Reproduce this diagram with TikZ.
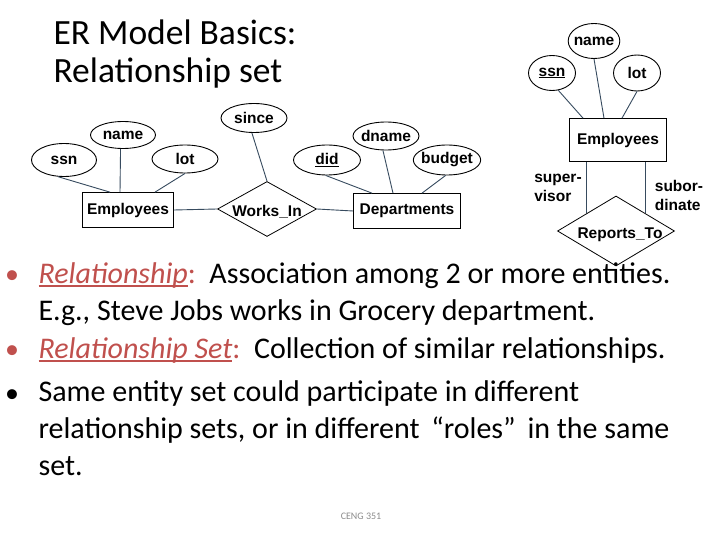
\documentclass[tikz,border=0pt]{standalone}
\usepackage{fontspec}
\setmainfont{Carlito}
\newfontfamily\erfont{Liberation Sans}
\usetikzlibrary{shapes.geometric, positioning}
\definecolor{keyred}{RGB}{192,80,77}
\definecolor{linkgray}{RGB}{55,75,95}
\definecolor{footgray}{RGB}{140,140,140}
\newcommand\erfnt{\erfont\bfseries\fontsize{15.5}{19}\selectfont}
\newcommand\keyterm[1]{\textcolor{keyred}{\setbox0\hbox{\itshape #1}\rlap{\rule[-4pt]{\wd0}{1.6pt}}\box0:}}

\begin{document}
\begin{tikzpicture}[x=1pt, y=-1pt,
    attr/.style={ellipse, draw, line width=0.9pt, inner sep=-2pt, font=\erfnt},
    ent/.style={rectangle, draw, line width=0.7pt, inner sep=0pt, minimum height=35pt, font=\erfnt},
    rel/.style={diamond, draw, line width=0.8pt, inner sep=0pt},
    every label/.style={font=\erfnt},
    link/.style={linkgray, line width=0.9pt},
    role/.style={align=left, font=\erfnt},
    bul/.style={anchor=base west, align=left, font=\fontsize{30}{37}\selectfont},
    dot/.style={anchor=base, font=\fontsize{28}{37}\selectfont}
  ]
  \fill[white] (0,0) rectangle (720,540);
  \useasboundingbox (0,0) rectangle (720,540);

  % title (base = last line)
  \node[anchor=base west, align=left, font=\fontsize{35.5}{38}\selectfont] (title) at (50,83) {ER Model Basics:\\Relationship set};

  % Works_In diagram
  \node[attr, minimum width=65pt, minimum height=33pt] (ssn) at (64,160) {ssn};
  \node[attr, minimum width=65pt, minimum height=27pt] (name) at (123,135) {name};
  \node[attr, minimum width=66pt, minimum height=28pt] (lot) at (185,159) {lot};
  \node[ent, minimum width=91pt] (emp) at (128,210) {Employees};
  \node[attr, minimum width=66pt, minimum height=29pt] (since) at (254,118) {since};
  \node[rel, minimum width=99pt, minimum height=55pt, label={[yshift=-3pt]center:Works\_In}] (works) at (267,209) {};
  \node[attr, minimum width=67pt, minimum height=30pt] (did) at (327,160) {\underline{did}};
  \node[attr, minimum width=66pt, minimum height=28pt] (dname) at (386,136) {dname};
  \node[attr, minimum width=66pt, minimum height=30pt] (budget) at (447,160) {budget};
  \node[ent, minimum width=107pt] (dept) at (407,211) {Departments};

  \draw[link] (ssn.250) -- ([xshift=-18pt]emp.north);
  \draw[link] (name.260) -- ([xshift=-8pt]emp.north);
  \draw[link] (lot.south) -- ([xshift=27pt]emp.north);
  \draw[link] (emp.east) -- (works.west);
  \draw[link] (works.east) -- (dept.west);
  \draw[link] (since.262) -- (works.north);
  \draw[link] (did.265) -- ([xshift=-35pt]dept.north);
  \draw[link] (dname.258) -- ([xshift=-14pt]dept.north);
  \draw[link] (budget.265) -- ([xshift=15pt]dept.north);

  % Reports_To diagram
  \node[attr, minimum width=46pt, minimum height=35pt] (rname) at (594,41) {name};
  \node[attr, minimum width=47pt, minimum height=35pt] (rssn) at (552,73) {\underline{ssn}};
  \node[attr, minimum width=47pt, minimum height=36pt] (rlot) at (637,73) {lot};
  \node[ent, minimum width=97pt, minimum height=43pt] (remp) at (618,140) {Employees};
  \node[rel, minimum width=117pt, minimum height=70pt, label={[xshift=4pt, yshift=-4pt]center:Reports\_To}] (reports) at (616,231) {};

  \draw[link] (rssn.290) -- ([xshift=-35pt]remp.north);
  \draw[link] (rname.south) -- ([xshift=-14pt]remp.north);
  \draw[link] (rlot.south) -- ([xshift=4pt]remp.north);
  \draw[link] (reports.north west |- remp.south) -- (reports.north west);
  \draw[link] (reports.north east |- remp.south) -- (reports.north east);

  \node[role] (sup) at (558,188) {super-\\visor};
  \node[role] (sub) at (679,195) {subor-\\dinate};

  % bullets (base = last line)
  \node[dot, text=keyred] (d1) at (12,283) {\textbullet};
  \node[bul] (b1) at (35,320) {\keyterm{Relationship}\ \ Association among 2 or more entities.\\E.g., Steve Jobs works in Grocery department.};
  \node[dot, text=keyred] (d2) at (12,358) {\textbullet};
  \node[bul] (b2) at (35,358) {\keyterm{Relationship Set}\ \ Collection of similar relationships.};
  \node[dot] (d3) at (12,402) {\textbullet};
  \node[bul] (b3) at (35,475) {Same entity set could participate in different\\relationship sets, or in different \,“roles”\, in the same\\set.};

  \node[font=\fontsize{10}{12}\selectfont, text=footgray] (foot) at (361,516) {CENG 351};
\end{tikzpicture}
\end{document}
